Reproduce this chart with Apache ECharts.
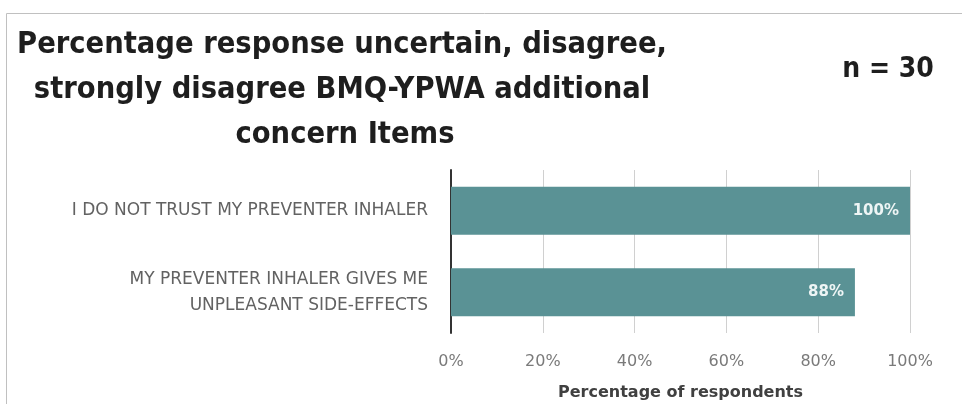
<!DOCTYPE html>
<html><head><meta charset="utf-8">
<script src="https://cdn.jsdelivr.net/npm/echarts@6/dist/echarts.min.js"></script>
<style>html,body{margin:0;padding:0;background:#fff}#c{width:962px;height:404px}</style>
</head><body><div id="c"></div>
<script>
const categories = ["MY PREVENTER INHALER GIVES ME\nUNPLEASANT SIDE-EFFECTS", "I DO NOT TRUST MY PREVENTER INHALER"];
const values = [88, 100];
const xTicks = [0, 20, 40, 60, 80, 100];
const titleLines = ["Percentage response uncertain, disagree,", "strongly disagree BMQ-YPWA additional", "concern Items"];
const nText = "n = 30";
const xAxisName = "Percentage of respondents";

const FC = "'DejaVu Sans Condensed', 'Liberation Sans', sans-serif";
const FS = "'DejaVu Sans', 'Liberation Sans', sans-serif";
const chart = echarts.init(document.getElementById('c'), null, {renderer: 'canvas'});
chart.setOption({
  animation: false,
  grid: {left: 451, right: 52, top: 170, bottom: 71, containLabel: false},
  xAxis: {
    type: 'value', min: xTicks[0], max: xTicks[xTicks.length - 1], interval: 20,
    axisLine: {show: false}, axisTick: {show: false},
    splitLine: {show: true, lineStyle: {color: '#d0d0d0', width: 1}},
    axisLabel: {formatter: v => v + '%', color: '#7a7a7a', fontSize: 16, margin: 21, fontFamily: FS},
    name: xAxisName, nameLocation: 'middle', nameGap: 52,
    nameTextStyle: {fontSize: 16, fontWeight: 'bold', color: '#404040', fontFamily: FS}
  },
  yAxis: {
    type: 'category', data: categories,
    axisLine: {show: true, lineStyle: {color: '#333', width: 2}},
    axisTick: {show: false},
    axisLabel: {color: '#626262', fontSize: 17, margin: 23, lineHeight: 26, fontFamily: FS, align: 'right'}
  },
  series: [{
    type: 'bar', data: values, barWidth: '59%',
    itemStyle: {color: '#5a9295'},
    label: {show: true, position: 'insideRight', distance: 11, formatter: p => p.value + '%', color: '#eef5f5', fontWeight: 'bold', fontSize: 15, fontFamily: FS}
  }],
  graphic: [
    {type: 'rect', shape: {x: 6.5, y: 13.5, width: 1000, height: 500}, style: {fill: 'none', stroke: '#c0c0c0', lineWidth: 1}, silent: true},
    {type: 'text', x: 342, y: 45, style: {text: titleLines[0], fontSize: 30.5, fontWeight: 'bold', fill: '#1e1e1e', textAlign: 'center', textVerticalAlign: 'middle', fontFamily: FC}},
    {type: 'text', x: 342, y: 90, style: {text: titleLines[1], fontSize: 30.5, fontWeight: 'bold', fill: '#1e1e1e', textAlign: 'center', textVerticalAlign: 'middle', fontFamily: FC}},
    {type: 'text', x: 345, y: 135, style: {text: titleLines[2], fontSize: 30.5, fontWeight: 'bold', fill: '#1e1e1e', textAlign: 'center', textVerticalAlign: 'middle', fontFamily: FC}},
    {type: 'text', x: 888, y: 70, style: {text: nText, fontSize: 28, fontWeight: 'bold', fill: '#1e1e1e', textAlign: 'center', textVerticalAlign: 'middle', fontFamily: FC}}
  ]
});
</script></body></html>
